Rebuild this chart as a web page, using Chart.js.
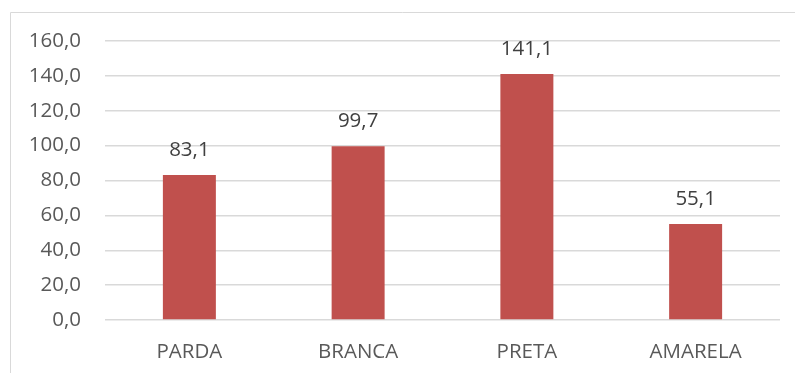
<!DOCTYPE html>
<html>
<head>
<meta charset="utf-8">
<script src="https://cdn.jsdelivr.net/npm/chart.js@4/dist/chart.umd.min.js"></script>
<style>
  html, body { margin: 0; padding: 0; background: #ffffff; }
  #wrap { position: relative; width: 795px; height: 373px; }
</style>
</head>
<body>
<div id="wrap"><canvas id="c" width="795" height="373"></canvas></div>
<script>
// Categorias e valores por cor/raça
const categories = ['PARDA', 'BRANCA', 'PRETA', 'AMARELA'];
const values = [83.1, 99.7, 141.1, 55.1];
const yMin = 0;
const yMax = 160;
const yStep = 20;

const fmt = v => v.toFixed(1).replace('.', ',');
const FONT = "'Open Sans', 'Liberation Sans', sans-serif";
const TEXT = '#595959';

// Moldura cinza clara do gráfico (esquerda e topo)
const framePlugin = {
  id: 'frame',
  beforeDraw(chart) {
    const ctx = chart.ctx;
    ctx.save();
    ctx.strokeStyle = '#d9d9d9';
    ctx.lineWidth = 1;
    ctx.beginPath();
    ctx.moveTo(10.5, chart.height);
    ctx.lineTo(10.5, 12.5);
    ctx.lineTo(chart.width, 12.5);
    ctx.stroke();
    ctx.restore();
  }
};

// Rótulos de valor acima de cada barra
const valueLabels = {
  id: 'valueLabels',
  afterDatasetsDraw(chart) {
    const ctx = chart.ctx;
    const meta = chart.getDatasetMeta(0);
    ctx.save();
    ctx.font = '20.5px ' + FONT;
    ctx.fillStyle = '#404040';
    ctx.textAlign = 'center';
    ctx.textBaseline = 'middle';
    meta.data.forEach((bar, i) => {
      ctx.fillText(fmt(values[i]), bar.x, bar.y - 25);
    });
    ctx.restore();
  }
};

new Chart(document.getElementById('c'), {
  type: 'bar',
  data: {
    labels: categories,
    datasets: [{
      data: values,
      backgroundColor: '#c0504d',
      borderWidth: 0,
      categoryPercentage: 1,
      barPercentage: 0.314
    }]
  },
  options: {
    responsive: false,
    animation: false,
    devicePixelRatio: 1,
    layout: { padding: { top: 41, right: 15, bottom: 0, left: 0 } },
    plugins: { legend: { display: false }, tooltip: { enabled: false } },
    scales: {
      x: {
        grid: { display: false, drawTicks: false },
        border: { display: false },
        ticks: { color: TEXT, font: { family: FONT, size: 20.5 }, padding: 20 },
        afterFit(scale) { scale.height = 53; }
      },
      y: {
        min: yMin,
        max: yMax,
        grid: { color: '#d9d9d9', lineWidth: 1.5, drawTicks: false },
        border: { display: false },
        ticks: {
          stepSize: yStep,
          color: TEXT,
          font: { family: FONT, size: 20.5 },
          padding: 24,
          callback: v => fmt(v)
        },
        afterFit(scale) { scale.width = 105; }
      }
    }
  },
  plugins: [framePlugin, valueLabels]
});
</script>
</body>
</html>
